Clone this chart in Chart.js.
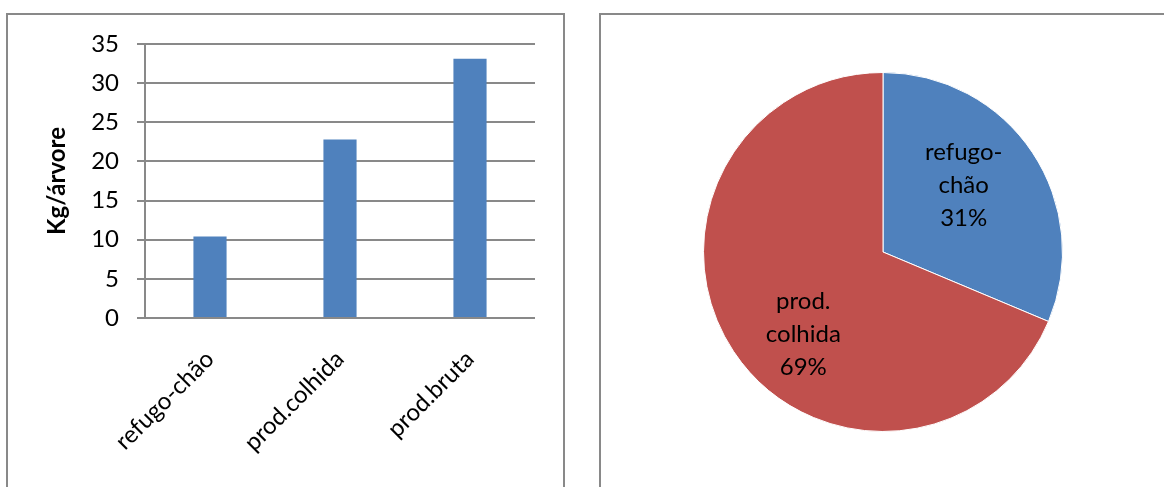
<!DOCTYPE html>
<html><head><meta charset="utf-8">
<script src="https://cdn.jsdelivr.net/npm/chart.js@4.4.1/dist/chart.umd.min.js"></script>
<style>
html,body{margin:0;padding:0;background:#fff;width:1164px;height:487px;overflow:hidden;position:relative}
.panel{position:absolute;border:2px solid #898989;box-sizing:border-box;}
#p1{left:6px;top:13px;width:559px;height:490px;}
#p2{left:599px;top:13px;width:580px;height:490px;}
canvas{position:absolute}
#c1{left:0;top:0}
#c2{left:600px;top:15px}
</style></head><body>
<div class="panel" id="p1"></div><div class="panel" id="p2"></div>
<canvas id="c1" width="570" height="487"></canvas>
<canvas id="c2" width="564" height="472"></canvas>
<script>
const categories = ['refugo-chão', 'prod.colhida', 'prod.bruta'];
const values = [10.4, 22.8, 33.1];
const yTicks = [0, 5, 10, 15, 20, 25, 30, 35];
const yTitle = 'Kg/árvore';
const pieCategories = ['refugo-chão', 'prod.colhida'];
const pieValues = [10.4, 22.8];
const pieLabelLines = [['refugo-', 'chão'], ['prod.', 'colhida']];

const BLUE = '#4F81BD', RED = '#C0504D', GRID = '#898989';
const FONT = 'Lato';

new Chart(document.getElementById('c1'), {
  type: 'bar',
  data: { labels: categories, datasets: [{ data: values, backgroundColor: BLUE, borderWidth: 0, categoryPercentage: 1, barPercentage: 0.255 }] },
  options: {
    responsive: false, animation: false, devicePixelRatio: 1,
    layout: { padding: { top: 44, right: 35, left: 0, bottom: 0 } },
    plugins: { legend: { display: false }, tooltip: { enabled: false } },
    scales: {
      x: {
        grid: { display: false },
        border: { display: false },
        ticks: { color: '#000', font: { family: FONT, size: 24 }, minRotation: 45, maxRotation: 45, padding: 19 },
        afterFit(s) { s.height = 169; }
      },
      y: {
        min: 0, max: 35,
        afterBuildTicks(s) { s.ticks = yTicks.map(v => ({ value: v })); },
        grid: { color: GRID, lineWidth: 2, tickLength: 8 },
        border: { color: GRID, width: 2 },
        ticks: { color: '#000', font: { family: FONT, size: 24 }, padding: 18 },
        title: { display: true, text: yTitle, color: '#000', font: { family: FONT, size: 24, weight: 'bold' }, padding: { top: 43, bottom: 0 } },
        afterFit(s) { s.width = 145; }
      }
    }
  }
});

const labelNudge = [[-6, -9], [7, 25]];
const pieLabelPlugin = {
  id: 'pieLabels',
  afterDatasetsDraw(chart) {
    const ctx = chart.ctx, meta = chart.getDatasetMeta(0);
    const data = chart.data.datasets[0].data;
    const total = data.reduce((a, b) => a + b, 0);
    meta.data.forEach((arc, i) => {
      const p = arc.getProps(['x', 'y', 'startAngle', 'endAngle', 'outerRadius'], true);
      const mid = (p.startAngle + p.endAngle) / 2;
      const r = p.outerRadius * 0.58;
      const cx = p.x + Math.cos(mid) * r + labelNudge[i][0];
      const cy = p.y + Math.sin(mid) * r + labelNudge[i][1];
      const lines = [...pieLabelLines[i], Math.round(data[i] / total * 100) + '%'];
      ctx.save();
      ctx.font = '24px ' + FONT; ctx.fillStyle = '#000';
      ctx.textAlign = 'center'; ctx.textBaseline = 'middle';
      const lh = 33;
      lines.forEach((t, k) => ctx.fillText(t, cx, cy + (k - (lines.length - 1) / 2) * lh));
      ctx.restore();
    });
  }
};

new Chart(document.getElementById('c2'), {
  type: 'pie',
  data: { labels: pieCategories, datasets: [{ data: pieValues, backgroundColor: [BLUE, RED], borderColor: '#fff', borderWidth: 1 }] },
  options: {
    responsive: false, animation: false, devicePixelRatio: 1,
    layout: { padding: { left: 103, right: 101, top: 57, bottom: 55 } },
    plugins: { legend: { display: false }, tooltip: { enabled: false } }
  },
  plugins: [pieLabelPlugin]
});
</script>
</body></html>
